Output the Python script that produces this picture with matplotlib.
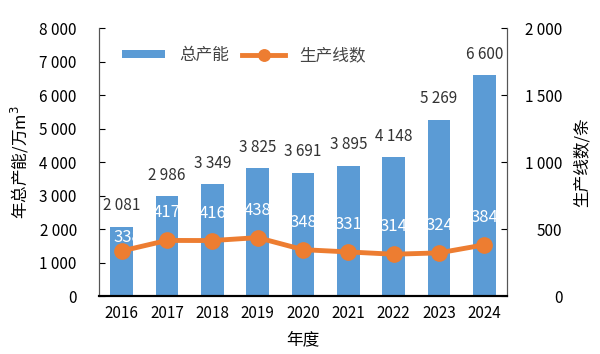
import numpy as np
import matplotlib.pyplot as plt
from matplotlib.ticker import FuncFormatter

plt.rcParams['font.family'] = ['Noto Sans CJK SC', 'DejaVu Sans']

years = ['2016', '2017', '2018', '2019', '2020', '2021', '2022', '2023', '2024']
capacity = [2081, 2986, 3349, 3825, 3691, 3895, 4148, 5269, 6600]
lines = [338, 417, 416, 438, 348, 331, 314, 324, 384]

blue = '#5B9BD5'
orange = '#ED7D31'


def fmt(v, pos=None):
    return '{:,}'.format(int(v)).replace(',', ' ')


fig = plt.figure(figsize=(6, 3.54), dpi=100)
ax = fig.add_axes([0.165, 0.163, 0.68, 0.757])
ax2 = ax.twinx()

x = np.arange(len(years))
ax.bar(x, capacity, width=0.5, color=blue, label='总产能', zorder=2)
ax2.plot(x, lines, color=orange, lw=3.5, marker='o', ms=11, label='生产线数', zorder=3)

for xi, v in zip(x, capacity):
    ax.text(xi, v + 630, fmt(v), ha='center', va='center', fontsize=11, color='#333333')
# first label sits lower (on the bar), as in the original
for i, (xi, v) in enumerate(zip(x, lines)):
    dy = 100 if i == 0 else 205
    ax2.text(xi + (0.12 if i == 0 else 0), v + dy, str(v), ha='center', va='center',
             fontsize=12, color='white', zorder=2)

ax.set_xlim(-0.5, len(years) - 0.5)
ax.set_ylim(0, 8000)
ax.set_yticks(np.arange(0, 8001, 1000))
ax.yaxis.set_major_formatter(FuncFormatter(fmt))
ax2.set_ylim(0, 2000)
ax2.set_yticks(np.arange(0, 2001, 500))
ax2.yaxis.set_major_formatter(FuncFormatter(fmt))

ax.set_xticks(x)
ax.set_xticklabels(years)
ax.tick_params(axis='x', length=0, labelsize=11, pad=6)
ax.tick_params(axis='y', direction='in', length=4, labelsize=11, pad=16)
ax2.tick_params(axis='y', direction='in', length=4, labelsize=11, pad=40)
for lab in ax2.get_yticklabels():
    lab.set_horizontalalignment('right')

for a in (ax, ax2):
    a.spines['top'].set_visible(False)
    a.spines['left'].set_color('#555555')
    a.spines['right'].set_color('#555555')
    a.spines['bottom'].set_linewidth(1.5)

ax.set_xlabel('年度', fontsize=12, labelpad=7)
ax.set_ylabel('年总产能/万m$^3$', fontsize=12, labelpad=6)
ax2.set_ylabel('生产线数/条', fontsize=12, labelpad=8)

h1, l1 = ax.get_legend_handles_labels()
h2, l2 = ax2.get_legend_handles_labels()
ax.legend(h1 + h2, l1 + l2, loc='upper left', bbox_to_anchor=(0.02, 0.985), ncol=2,
          frameon=False, fontsize=12, handlelength=2.6, handletextpad=0.8,
          columnspacing=0.8, handleheight=0.35, markerscale=0.75,
          labelcolor='#444444')

fig.savefig('out.png', dpi=100)
